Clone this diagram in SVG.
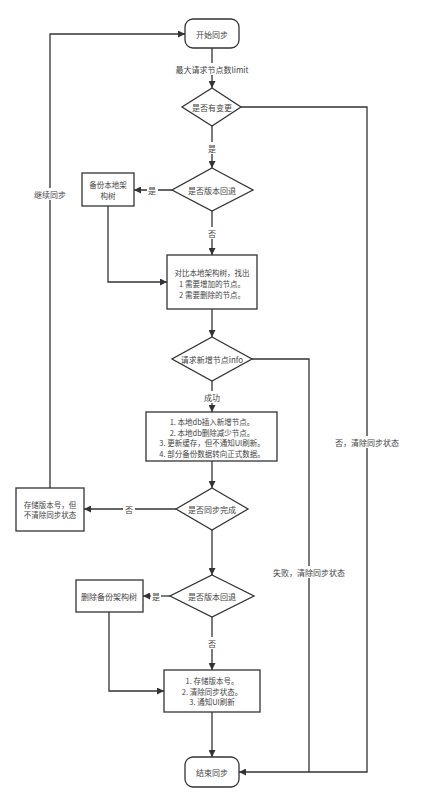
<svg xmlns="http://www.w3.org/2000/svg" width="448" height="800" viewBox="0 0 448 800">
<defs>
<marker id="arr" viewBox="0 0 10 10" refX="10" refY="5" markerWidth="7" markerHeight="7" markerUnits="userSpaceOnUse" orient="auto">
<path d="M0,0 L10,5 L0,10 Z" fill="#333"/>
</marker>
<style>
.n{fill:#fff;stroke:#333;stroke-width:1.3}
.e{fill:none;stroke:#333;stroke-width:1.3}
.t{font-family:"Noto Sans CJK SC","Liberation Sans",sans-serif;font-size:8px;fill:#444;text-anchor:middle;dominant-baseline:central}
.s{font-size:7.5px}
.bg{fill:#fff}
</style>
</defs>
<rect width="448" height="800" fill="#fff"/>

<g id="connectors">
<path class="e" d="M212,48 V88" marker-end="url(#arr)"/>
<path class="e" d="M241,107 H367 V772 H239" marker-end="url(#arr)"/>
<path class="e" d="M212,126 V168" marker-end="url(#arr)"/>
<path class="e" d="M172,190 H134" marker-end="url(#arr)"/>
<path class="e" d="M108,206 V282 H167" marker-end="url(#arr)"/>
<path class="e" d="M212,211 V255" marker-end="url(#arr)"/>
<path class="e" d="M212,309 V337" marker-end="url(#arr)"/>
<path class="e" d="M252,359 H309 V772"/>
<path class="e" d="M212,381 V412" marker-end="url(#arr)"/>
<path class="e" d="M212,461 V488" marker-end="url(#arr)"/>
<path class="e" d="M176,509 H84" marker-end="url(#arr)"/>
<path class="e" d="M50,488 V34 H185" marker-end="url(#arr)"/>
<path class="e" d="M212,530 V575" marker-end="url(#arr)"/>
<path class="e" d="M170,596 H143" marker-end="url(#arr)"/>
<path class="e" d="M109,612 V691 H164" marker-end="url(#arr)"/>
<path class="e" d="M212,617 V670" marker-end="url(#arr)"/>
<path class="e" d="M212,712 V757" marker-end="url(#arr)"/>

<rect class="bg" x="175" y="63" width="74" height="12"/>
<text class="t" x="212" y="69">最大请求节点数limit</text>
<rect class="bg" x="206" y="142" width="12" height="12"/>
<text class="t" x="212" y="148">是</text>
<rect class="bg" x="147" y="184" width="11" height="12"/>
<text class="t" x="152" y="190">是</text>
<rect class="bg" x="206" y="227" width="12" height="12"/>
<text class="t" x="212" y="233">否</text>
<rect class="bg" x="203" y="391" width="18" height="12"/>
<text class="t" x="212" y="397">成功</text>
<rect class="bg" x="123" y="503" width="12" height="12"/>
<text class="t" x="129" y="509">否</text>
<rect class="bg" x="34" y="188" width="33" height="12"/>
<text class="t" x="50" y="194">继续同步</text>
<rect class="bg" x="151" y="590" width="10" height="12"/>
<text class="t" x="156" y="596">是</text>
<rect class="bg" x="206" y="637" width="12" height="12"/>
<text class="t" x="212" y="643">否</text>
<rect class="bg" x="273" y="566" width="72" height="12"/>
<text class="t" x="309" y="572">失败，清除同步状态</text>
<rect class="bg" x="335" y="436" width="64" height="12"/>
<text class="t" x="367" y="442">否，清除同步状态</text>
</g>

<g id="start">
<rect class="n" x="185" y="19" width="54" height="29" rx="8"/>
<text class="t" x="212" y="34">开始同步</text>
</g>
<g id="d-change">
<polygon class="n" points="212,88 241,107 212,126 182,107"/>
<text class="t" x="212" y="107">是否有变更</text>
</g>
<g id="d-rollback1">
<polygon class="n" points="212,168 253,190 212,211 172,190"/>
<text class="t" x="212" y="190">是否版本回退</text>
</g>
<g id="backup">
<rect class="n" x="82" y="173" width="52" height="33"/>
<text class="t s" x="108" y="184.5">备份本地架</text>
<text class="t s" x="108" y="195.3">构树</text>
</g>
<g id="compare">
<rect class="n" x="167" y="255" width="90" height="54"/>
<text class="t s" x="212" y="272.5">对比本地架构树，找出</text>
<text class="t s" x="212" y="283.3">1  需要增加的节点。</text>
<text class="t s" x="212" y="294.1">2 需要删除的节点。</text>
</g>
<g id="d-request">
<polygon class="n" points="212,337 252,359 212,381 172,359"/>
<text class="t" x="212" y="359">请求新增节点info</text>
</g>
<g id="apply">
<rect class="n" x="146" y="412" width="131" height="49"/>
<text class="t s" x="212" y="421.5">1. 本地db插入新增节点。</text>
<text class="t s" x="212" y="432.2">2. 本地db删除减少节点。</text>
<text class="t s" x="212" y="442.9">3. 更新缓存，但不通知UI刷新。</text>
<text class="t s" x="212" y="453.6">4. 部分备份数据转向正式数据。</text>
</g>
<g id="d-done">
<polygon class="n" points="212,488 248,509 212,530 176,509"/>
<text class="t" x="212" y="509">是否同步完成</text>
</g>
<g id="store-keep">
<rect class="n" x="16" y="488" width="68" height="43"/>
<text class="t s" x="50" y="504">存储版本号，但</text>
<text class="t s" x="50" y="514.8">不清除同步状态</text>
</g>
<g id="d-rollback2">
<polygon class="n" points="212,575 254,596 212,617 170,596"/>
<text class="t" x="212" y="596">是否版本回退</text>
</g>
<g id="delete-backup">
<rect class="n" x="76" y="580" width="67" height="32"/>
<text class="t" x="109" y="596">删除备份架构树</text>
</g>
<g id="finish">
<rect class="n" x="164" y="670" width="96" height="42"/>
<text class="t s" x="212" y="680.2">1. 存储版本号。</text>
<text class="t s" x="212" y="691">2. 清除同步状态。</text>
<text class="t s" x="212" y="701.8">3. 通知UI刷新</text>
</g>
<g id="end">
<rect class="n" x="185" y="757" width="54" height="30" rx="8"/>
<text class="t" x="212" y="772">结束同步</text>
</g>
</svg>
